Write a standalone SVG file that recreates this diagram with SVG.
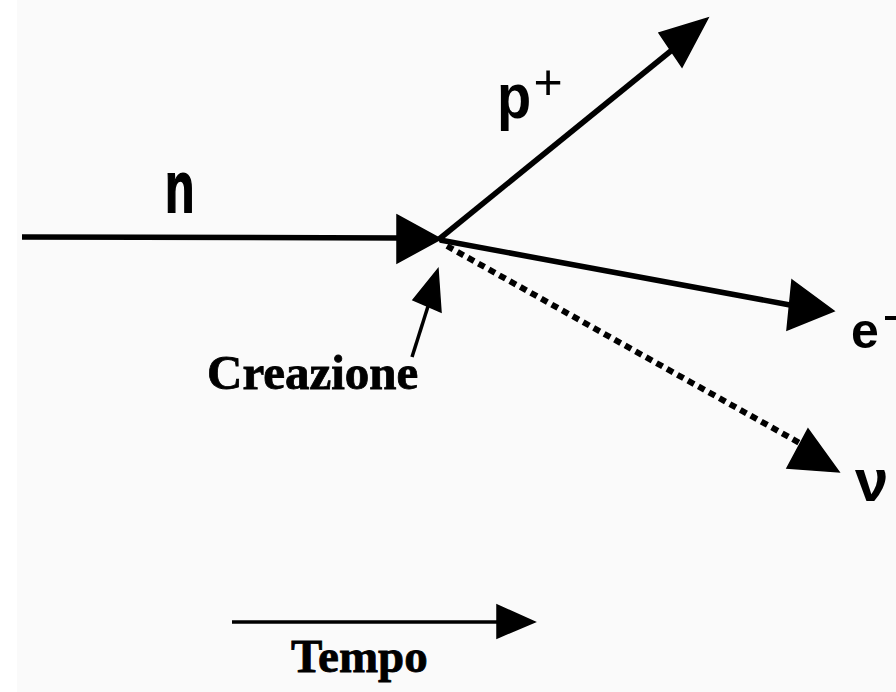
<svg xmlns="http://www.w3.org/2000/svg" width="896" height="692" viewBox="0 0 896 692">
  <style>
    .ln{stroke:#000;stroke-width:5.5;fill:none;stroke-linecap:butt}
    .thin{stroke:#000;stroke-width:3.5;fill:none}
    .dot{stroke:#000;stroke-width:6;fill:none;stroke-dasharray:7 5}
    .head{fill:#000;stroke:#000;stroke-width:1.5;stroke-linejoin:miter}
    .sans{font-family:"Liberation Sans",Arial,sans-serif;font-weight:bold;fill:#000}
    .serif{font-family:"Liberation Serif","Times New Roman",serif;font-weight:bold;fill:#000;stroke:#000;stroke-width:0.8}
  </style>
  <rect x="0" y="0" width="896" height="692" fill="#fafafa"/>
  <rect x="0" y="0" width="17" height="692" fill="#ffffff"/>

  <g id="connectors">
    <line class="ln" x1="22" y1="237" x2="400" y2="238"/>
    <polygon class="head" points="397,215 441,239 397,263"/>
    <line class="ln" x1="438" y1="240" x2="672" y2="50"/>
    <polygon class="head" points="708,18 659,33 682,67"/>
    <line class="ln" x1="440" y1="240" x2="790" y2="305"/>
    <polygon class="head" points="792,280 834,311 787,330"/>
    <line class="dot" x1="447" y1="246" x2="805" y2="446"/>
    <polygon class="head" points="808,429 839,472 787,468"/>
    <line class="thin" x1="412" y1="357" x2="430" y2="300"/>
    <polygon class="head" points="438,269 441,312 413,300"/>
    <line class="thin" x1="232" y1="622" x2="505" y2="622"/>
    <polygon class="head" points="497,605 535,622 497,638"/>
  </g>

  <g id="n">
    <text class="sans" transform="translate(165,212) scale(0.8,1.19)" font-size="60" stroke="#000" stroke-width="1.5">n</text>
  </g>
  <g id="proton">
    <text class="sans" transform="translate(497,118) scale(1,1.12)" font-size="56">p</text>
    <text x="548" y="99" font-size="50" text-anchor="middle" font-family="Liberation Sans,Arial,sans-serif" fill="#000">+</text>
  </g>
  <g id="electron">
    <text class="sans" x="851" y="348" font-size="50">e</text>
    <rect x="885" y="316" width="11" height="4" fill="#000"/>
  </g>
  <g id="neutrino">
    <text class="sans" x="855" y="501" font-size="60">ν</text>
  </g>
  <g id="creazione">
    <text class="serif" x="207" y="389" font-size="49">Creazione</text>
  </g>
  <g id="tempo">
    <text class="serif" x="291" y="672" font-size="47">Tempo</text>
  </g>
</svg>
